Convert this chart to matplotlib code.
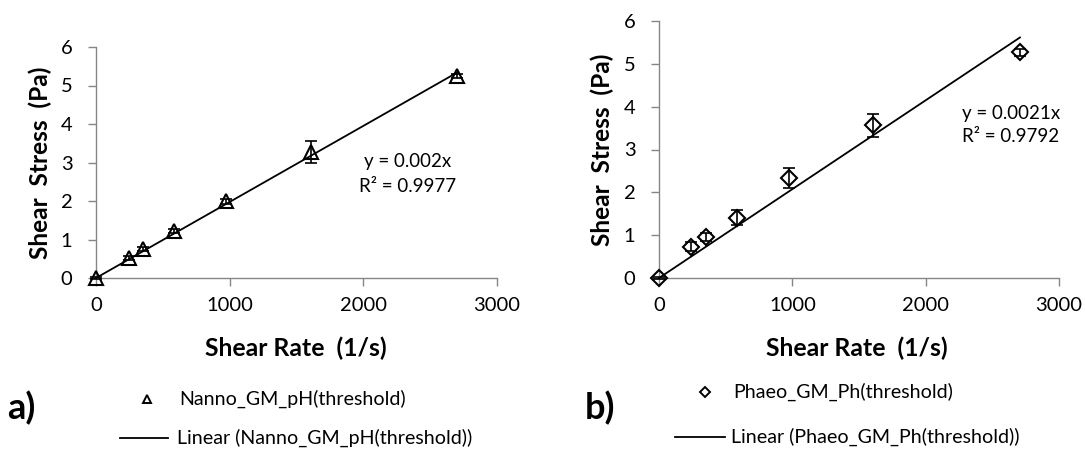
import numpy as np
import matplotlib
matplotlib.use("Agg")
import matplotlib.pyplot as plt
from matplotlib.lines import Line2D

plt.rcParams['font.family'] = ['Lato', 'DejaVu Sans']

# Panel a) Nanno
shear_rate_a = [0, 247, 354, 585, 972, 1612, 2703]
stress_a = [0.0, 0.52, 0.75, 1.22, 1.99, 3.27, 5.24]
err_a = [0.02, 0.05, 0.05, 0.06, 0.06, 0.28, 0.05]
# Panel b) Phaeo
shear_rate_b = [0, 240, 352, 582, 975, 1607, 2707]
stress_b = [0.0, 0.73, 0.96, 1.41, 2.33, 3.57, 5.27]
err_b = [0.02, 0.10, 0.10, 0.18, 0.24, 0.27, 0.08]

eq_a = ["y = 0.002x", "R² = 0.9977"]
eq_b = ["y = 0.0021x", "R² = 0.9792"]
label_a = "Nanno_GM_pH(threshold)"
label_b = "Phaeo_GM_Ph(threshold)"

W, H = 1085, 451
fig = plt.figure(figsize=(W / 100, H / 100), dpi=100)
renderer = fig.canvas.get_renderer()
GRAY = '#868686'


def fit_size(s, target_px, weight='normal'):
    t = fig.text(0, 0, s, fontsize=10, fontweight=weight)
    w = t.get_window_extent(renderer).width
    t.remove()
    return 10 * target_px / w


TICK_FS = fit_size("1000", 46.7)
LEG_FS = fit_size(label_a, 227)
XL_FS = fit_size("Shear Rate  (1/s)", 182, 'bold')
YL_FS = fit_size("Shear  Stress  (Pa)", 193, 'bold')
EQ_FS = fit_size(eq_a[0], 87)
LET_FS = fit_size("a)", 28, 'bold')


def px_ax(x0, y0, x1, y1):
    return fig.add_axes([x0 / W, 1 - y1 / H, (x1 - x0) / W, (y1 - y0) / H])


def style(ax):
    ax.set_xlim(0, 3000)
    ax.set_ylim(0, 6)
    ax.set_xticks([0, 1000, 2000, 3000])
    ax.set_yticks(range(7))
    for s in ['top', 'right']:
        ax.spines[s].set_visible(False)
    for s in ['left', 'bottom']:
        ax.spines[s].set_color(GRAY)
        ax.spines[s].set_linewidth(1.0)
        ax.spines[s].set_clip_on(False)
    ax.tick_params(direction='out', length=6, width=1.0, color=GRAY,
                   labelsize=TICK_FS, labelcolor='black')
    ax.tick_params(axis='y', pad=11)
    ax.tick_params(axis='x', pad=8)
    ax.patch.set_visible(False)


def panel(ax, x, y, e, marker, ms):
    x = np.asarray(x, float); y = np.asarray(y, float)
    slope = np.sum(x * y) / np.sum(x * x)
    xs = np.array([0, x.max()])
    ax.plot(xs, slope * xs, color='black', lw=1.3, zorder=2)
    ax.errorbar(x, y, yerr=e, fmt='none', ecolor='black', elinewidth=1.2,
                capsize=4, capthick=1.2, zorder=3, clip_on=False)
    ax.plot(x, y, linestyle='none', marker=marker, ms=ms, mfc='none',
            mec='black', mew=1.5, zorder=4, clip_on=False)


axa = px_ax(96, 47, 497, 278)
style(axa)
panel(axa, shear_rate_a, stress_a, err_a, '^', 10)
axb = px_ax(659, 21, 1059, 278)
style(axb)
panel(axb, shear_rate_b, stress_b, err_b, 'D', 8)


def ftext(x, y, s, **kw):
    fig.text(x / W, 1 - y / H, s, **kw)


# y labels
ftext(40, 163, "Shear  Stress  (Pa)", rotation=90, fontsize=YL_FS, fontweight='bold',
      ha='center', va='center')
ftext(602, 150, "Shear  Stress  (Pa)", rotation=90, fontsize=YL_FS, fontweight='bold',
      ha='center', va='center')
# x labels
ftext(296, 348, "Shear Rate  (1/s)", fontsize=XL_FS, fontweight='bold', ha='center', va='center')
ftext(857, 348, "Shear Rate  (1/s)", fontsize=XL_FS, fontweight='bold', ha='center', va='center')
# equations
ftext(408, 162, eq_a[0], fontsize=EQ_FS, ha='center', va='center')
ftext(408, 186, eq_a[1], fontsize=EQ_FS, ha='center', va='center')
ftext(962, 113, eq_b[0], fontsize=EQ_FS, ha='left', va='center')
ftext(962, 137, eq_b[1], fontsize=EQ_FS, ha='left', va='center')
# panel letters
ftext(7, 408, "a)", fontsize=LET_FS, fontweight='bold', ha='left', va='center')
ftext(585, 408, "b)", fontsize=LET_FS, fontweight='bold', ha='left', va='center')


# legends (manual)
def legend_rows(xm, ym, xt1, xl0, xl1, yl, xt2, marker, ms, lab):
    fig.add_artist(Line2D([xm / W], [1 - ym / H], marker=marker, ms=ms, mfc='none',
                          mec='black', mew=1.4, linestyle='none'))
    ftext(xt1, ym, lab, fontsize=LEG_FS, ha='left', va='center')
    fig.add_artist(Line2D([xl0 / W, xl1 / W], [1 - yl / H, 1 - yl / H], color='black', lw=1.3))
    ftext(xt2, yl, "Linear (" + lab + ")", fontsize=LEG_FS, ha='left', va='center')


legend_rows(147, 399, 179, 120, 168, 438, 177, '^', 6, label_a)
legend_rows(705, 392, 733, 675, 725, 437, 731, 'D', 5, label_b)

fig.savefig("out.png", dpi=100)
